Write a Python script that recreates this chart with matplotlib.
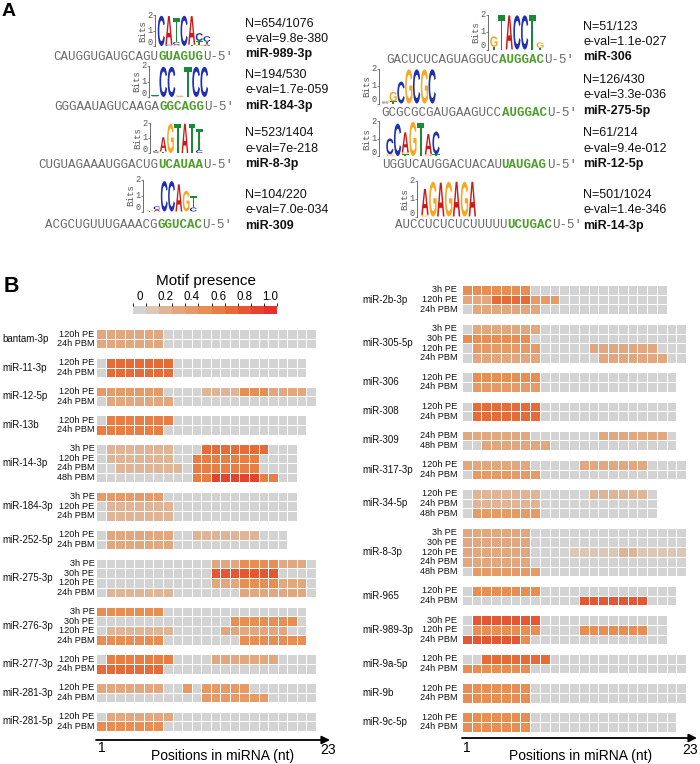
import numpy as np
import matplotlib
matplotlib.use("Agg")
import matplotlib.pyplot as plt
from matplotlib.textpath import TextPath
from matplotlib.patches import PathPatch
from matplotlib.font_manager import FontProperties
from matplotlib.transforms import Affine2D, blended_transform_factory
from matplotlib.colors import ListedColormap, BoundaryNorm
import matplotlib.cm as cm

plt.rcParams['font.family'] = ['Liberation Sans', 'DejaVu Sans']

# ---------------- Panel A data ----------------
motif_names = ["miR-989-3p", "miR-184-3p", "miR-8-3p", "miR-309",
               "miR-306", "miR-275-5p", "miR-12-5p", "miR-14-3p"]
motif_N = ["N=654/1076", "N=194/530", "N=523/1404", "N=104/220",
           "N=51/123", "N=126/430", "N=61/214", "N=501/1024"]
motif_eval = ["e-val=9.8e-380", "e-val=1.7e-059", "e-val=7e-218", "e-val=7.0e-034",
              "e-val=1.1e-027", "e-val=3.3e-036", "e-val=9.4e-012", "e-val=1.4e-346"]
seq_prefix = ["CAUGGUGAUGCAGU", "GGGAAUAGUCAAGA", "CUGUAGAAAUGGACUG", "ACGCUGUUUGAAACG",
              "GACUCUCAGUAGGUC", "GCGCGCGAUGAAGUCC", "UGGUCAUGGACUACAU", "AUCCUCUCUCUUUUU"]
seq_seed = ["GUAGUG", "GGCAGG", "UCAUAA", "GGUCAC", "AUGGAC", "AUGGAC", "UAUGAG", "UCUGAC"]
seq_suffix = "U-5\u2032"
bits_ticks = [0, 1, 2]

# letter stacks per logo column (bottom -> top), heights in bits
logo_columns = [
    [[('C', 1.95)], [('C', 0.08), ('A', 1.85)], [('G', 0.08), ('C', 0.18), ('T', 1.55)],
     [('C', 1.95)], [('T', 0.08), ('A', 1.85)], [('G', 0.08), ('T', 0.25), ('C', 0.5)],
     [('A', 0.1), ('T', 0.18), ('C', 0.35)]],
    [[('A', 0.04), ('T', 0.06)], [('C', 1.95)], [('C', 1.95)], [('A', 0.04), ('G', 0.06)],
     [('T', 1.95)], [('C', 1.95)], [('C', 1.95)]],
    [[('A', 0.06), ('C', 0.06), ('T', 0.1)], [('T', 0.1), ('A', 0.95)], [('G', 1.95)],
     [('T', 1.95)], [('A', 1.95)], [('T', 1.95)], [('C', 0.2), ('T', 1.4)]],
    [[('T', 0.05), ('G', 0.05)], [('A', 0.12), ('C', 0.2)], [('C', 1.9)], [('C', 1.9)],
     [('A', 1.7)], [('G', 1.3)], [('C', 0.25), ('T', 0.7)]],
    [[('T', 0.15), ('G', 0.6)], [('T', 1.95)], [('A', 1.95)], [('C', 1.95)], [('C', 1.95)],
     [('T', 1.95)], [('T', 0.1), ('G', 0.3)]],
    [[('A', 0.05), ('C', 0.05), ('G', 0.05)], [('T', 0.12), ('G', 0.55)], [('C', 1.25)],
     [('G', 1.95)], [('C', 1.95)], [('G', 1.95)], [('C', 1.95)]],
    [[('G', 0.1), ('C', 0.9)], [('C', 1.85)], [('T', 0.1), ('G', 0.1), ('A', 1.15)],
     [('G', 1.95)], [('T', 1.9)], [('G', 0.1), ('A', 1.15)], [('T', 0.1), ('C', 1.3)]],
    [[('G', 0.1), ('A', 1.45)], [('G', 1.95)], [('A', 1.9)], [('G', 1.95)], [('A', 1.95)],
     [('G', 1.95)], [('A', 1.95)]],
]

# ---------------- Panel B data ----------------
presence_levels = [0.0, 0.1, 0.2, 0.3, 0.4, 0.5, 0.6, 0.7, 0.8, 0.9, 1.0]
presence_ticks = [0.0, 0.2, 0.4, 0.6, 0.8, 1.0]
presence_ticklabels = ["0", "0.2", "0.4", "0.6", "0.8", "1.0"]

left_mirnas = ["bantam-3p", "miR-11-3p", "miR-12-5p", "miR-13b", "miR-14-3p", "miR-184-3p",
               "miR-252-5p", "miR-275-3p", "miR-276-3p", "miR-277-3p", "miR-281-3p", "miR-281-5p"]
left_conditions = [["120h PE", "24h PBM"], ["120h PE", "24h PBM"], ["120h PE", "24h PBM"],
                   ["120h PE", "24h PBM"], ["3h PE", "120h PE", "24h PBM", "48h PBM"],
                   ["3h PE", "120h PE", "24h PBM"], ["120h PE", "24h PBM"],
                   ["3h PE", "30h PE", "120h PE", "24h PBM"], ["3h PE", "30h PE", "120h PE", "24h PBM"],
                   ["120h PE", "24h PBM"], ["120h PE", "24h PBM"], ["120h PE", "24h PBM"]]
# one digit per nucleotide position: motif presence in tenths
left_presence = [
    ["33333330000000000000000", "33333330000000000000000"],
    ["0777777700000000000000", "0777777700000000000000"],
    ["44444440000222255533330", "03333333000000000000000"],
    ["0666666600000000000000", "6666666000000000000000"],
    ["022222220007777777000", "022222220066666660000", "002222222066666660000", "000000000066999996600"],
    ["444444400000000000000", "022222220000000000000", "022222220000000000000"],
    ["03333333002222222000", "03333333000000000000"],
    ["00000000000033355553330", "00000000000088888880000", "00000000000033355553330", "02222222000000033333330"],
    ["5555555000000000000000", "0000000000000055555550", "0222222200000333333300", "5555555000000005555555"],
    ["06666666000033333330000", "77777770000000000000000"],
    ["33333330040444440000000", "00000000000444444400000"],
    ["03333333000000000000000", "55555550000000000000000"],
]

right_mirnas = ["miR-2b-3p", "miR-305-5p", "miR-306", "miR-308", "miR-309", "miR-317-3p", "miR-34-5p",
                "miR-8-3p", "miR-965", "miR-989-3p", "miR-9a-5p", "miR-9b", "miR-9c-5p"]
right_conditions = [["3h PE", "120h PE", "24h PBM"], ["3h PE", "30h PE", "120h PE", "24h PBM"],
                    ["120h PE", "24h PBM"], ["120h PE", "24h PBM"], ["24h PBM", "48h PBM"],
                    ["120h PE", "24h PBM"], ["120h PE", "24h PBM", "48h PBM"],
                    ["3h PE", "30h PE", "120h PE", "24h PBM", "48h PBM"], ["120h PE", "24h PBM"],
                    ["30h PE", "120h PE", "24h PBM"], ["120h PE", "24h PBM"], ["120h PE", "24h PBM"],
                    ["120h PE", "24h PBM"]]
right_presence = [
    ["555555500000000000000", "333777744400000000000", "033333330000000000000"],
    ["03333333000000000000000", "55555550000000000000000", "04444444000003333333000", "03333333000000333333300"],
    ["0555555500000000000000", "0444444400000000000000"],
    ["0777777700000000000000", "0777777700000000000000"],
    ["3333333000000033333330", "0033333330000000000000"],
    ["33333330000033333330000", "04444444000000000000000"],
    ["02222222000002222220", "02222222000000000000", "04444444000000000000"],
    ["33333330000000000000000", "33333330000000000000000", "33333330000111112211111",
     "33333330000000000000000", "04444444000000000000000"],
    ["0555555500000000000000", "0000000000008888888000"],
    ["088888880000000000000", "055555550000555555500", "888888500000000000000"],
    ["00777777700000000000000", "55555550000000000000000"],
    ["55555550000000000000000", "55555550000000000000000"],
    ["5555555000000000000000", "5555555000000000000000"],
]
max_len = 23

# ---------------- styles / layout ----------------
W, H = 700, 764
fig = plt.figure(figsize=(7, 7.64), dpi=100)
ov = fig.add_axes([0, 0, 1, 1])
ov.set_xlim(0, W)
ov.set_ylim(H, 0)
ov.axis('off')


def fig_rect(x0, y0, x1, y1):
    return [x0 / W, 1 - y1 / H, (x1 - x0) / W, (y1 - y0) / H]


base_colors = {'A': '#cc1a1a', 'C': '#1f2fb0', 'G': '#f7a823', 'T': '#1a8a38'}
glyph_font = FontProperties(family='Liberation Sans', weight='bold')
glyphs = {}
for b in 'ACGT':
    p = TextPath((0, 0), b, size=10, prop=glyph_font)
    glyphs[b] = (p, p.get_extents())

# logo layout: spine x, y of 0 bits, px per bit, first column x, column width (pixels)
logo_layout = [
    (155, 46.0, 15.5, 157.5, 7.6),
    (149, 97.0, 15.5, 151.0, 8.2),
    (150, 153.0, 15.0, 152.5, 7.2),
    (143, 211.5, 16.0, 146.0, 7.3),
    (488, 49.5, 17.5, 490.0, 7.7),
    (379, 103.5, 17.5, 381.5, 7.8),
    (379, 156.0, 17.5, 386.0, 7.7),
    (417, 216.5, 17.8, 421.0, 7.9),
]
seq_layout = [(53.3, 56.5), (54.3, 107), (38.3, 165), (45, 225),
              (386.7, 60.3), (381.7, 112.7), (381.7, 165), (395, 225)]
info_layout = [(245, 23.7), (245, 75), (245, 133.3), (245, 195),
               (583.3, 26.7), (583.3, 80), (583.3, 133.3), (583.3, 195)]
mono = ['Liberation Mono', 'DejaVu Sans Mono']
cw = 7.5

for i in range(8):
    sx, y0, bpx, cx, colw = logo_layout[i]
    cols = logo_columns[i]
    x_end = cx + colw * len(cols)
    ax = fig.add_axes(fig_rect(sx, y0 - 2 * bpx, x_end, y0))
    ax.set_xlim(sx, x_end)
    ax.set_ylim(0, 2)
    for s in ['top', 'right', 'bottom']:
        ax.spines[s].set_visible(False)
    ax.spines['left'].set_linewidth(0.6)
    ax.spines['left'].set_color('#555555')
    ax.set_xticks([])
    ax.set_yticks(bits_ticks)
    ax.set_yticklabels([])
    ax.tick_params(axis='y', length=1.5, width=0.5, colors='#555555')
    ax.patch.set_alpha(0)
    for b in bits_ticks:
        yy = y0 - b * bpx
        va = 'center'
        if b == 0:
            yy = y0 + 1.0
            va = 'bottom'
        ov.text(sx - 2.5, yy, str(b), family=mono, fontsize=6.2, color='#555555',
                ha='right', va=va)
    ov.text(sx - 12.5, y0 - bpx, "Bits", family=mono, fontsize=6.6, color='#555555',
            rotation=90, ha='center', va='center')
    for k, stack in enumerate(cols):
        ybase = 0.0
        x = cx + k * colw + colw * 0.03
        w = colw * 0.94
        for letter, h in stack:
            path, bb = glyphs[letter]
            tr = (Affine2D().translate(-bb.x0, -bb.y0)
                  .scale(w / bb.width, h / bb.height).translate(x, ybase))
            ax.add_patch(PathPatch(tr.transform_path(path), facecolor=base_colors[letter],
                                   edgecolor='none'))
            ybase += h
    # sequence text
    x0, ys = seq_layout[i]
    ov.text(x0, ys, seq_prefix[i], family=mono, fontsize=9, color='#6a6a6a', va='center', ha='left')
    xs = x0 + len(seq_prefix[i]) * cw
    ov.text(xs, ys, seq_seed[i], family=mono, fontsize=9, color='#4e9e2c', weight='bold',
            va='center', ha='left')
    xs += len(seq_seed[i]) * cw
    ov.text(xs, ys, seq_suffix, family=mono, fontsize=9, color='#6a6a6a', va='center', ha='left')
    ix, iy = info_layout[i]
    ov.text(ix, iy, motif_N[i], fontsize=9, va='center', ha='left', color='#111111')
    ov.text(ix, iy + 15.3, motif_eval[i], fontsize=9, va='center', ha='left', color='#111111')
    ov.text(ix, iy + 30.6, motif_names[i], fontsize=9, va='center', ha='left',
            weight='bold', color='#111111')

ov.text(2, 12, "A", fontsize=14, weight='bold', va='center', ha='left')
ov.text(4, 286, "B", fontsize=15.5, weight='bold', va='center', ha='left')

# ---------------- Panel B ----------------
level_colors = ['#d3d3d3', '#dcc6b6', '#e0b597', '#e3a77f', '#e69a68', '#e98e52',
                '#e97e44', '#e76a39', '#e65632', '#e4432e', '#e3312b']
cmap = ListedColormap(level_colors)
cmap.set_bad((1, 1, 1, 0))
bounds = np.array(presence_levels + [1.1]) - 0.05
norm = BoundaryNorm(bounds, cmap.N)


def draw_heatmap(rect, mirnas, conds, pres, name_x, cond_off, arrow_end_px, arrow_y_px,
                 label_px):
    n_units = sum(len(c) for c in conds) + len(conds) - 1
    x0, y0, x1, y1 = rect
    ax = fig.add_axes(fig_rect(x0, y0, x1, y1))
    ax.set_xlim(0.5, max_len + 0.5)
    ax.set_ylim(n_units, 0)
    ax.axis('off')
    Z = np.full((n_units, max_len), np.nan)
    trans = blended_transform_factory(ov.transData, ax.transData)
    r = 0
    for name, cl, pl in zip(mirnas, conds, pres):
        start = r
        for cond, s in zip(cl, pl):
            Z[r, :len(s)] = [int(ch) / 10 for ch in s]
            ax.text(0.5 - cond_off, r + 0.5, cond, ha='right', va='center', fontsize=6.6,
                    color='#111111')
            r += 1
        ax.text(name_x, (start + r) / 2, name, transform=trans, ha='left', va='center',
                fontsize=7, color='#111111')
        r += 1
    Zm = np.ma.masked_invalid(Z)
    ax.pcolormesh(np.arange(0.5, max_len + 1.5), np.arange(n_units + 1), Zm, cmap=cmap,
                  norm=norm, edgecolors='white', linewidth=0.5)
    ux = (x1 - x0) / max_len
    uy = (y1 - y0) / n_units
    ax_end = 0.5 + (arrow_end_px - x0) / ux
    ay = n_units + (arrow_y_px - y1) / uy
    ax.annotate('', xy=(ax_end, ay), xytext=(0.5, ay),
                arrowprops=dict(arrowstyle='-|>', color='black', lw=1.3, mutation_scale=12,
                                shrinkA=0, shrinkB=0), annotation_clip=False)
    lx1, l23, ltxt, ly = label_px
    ov.text(lx1, 748, "1", fontsize=10, ha='center', va='center')
    ov.text(l23, 750, "23", fontsize=10, ha='center', va='center')
    ov.text(ltxt, ly, "Positions in miRNA (nt)", fontsize=10, ha='center', va='center')
    return ax


draw_heatmap((96, 329.3, 316, 731.0), left_mirnas, left_conditions, left_presence,
             2, 0.16, 330, 740, (101.7, 328, 222.5, 756))
draw_heatmap((462, 285.0, 686, 731.7), right_mirnas, right_conditions, right_presence,
             362.7, 0.48, 697, 738, (467, 690, 580.8, 756))

# colorbar
cax = fig.add_axes(fig_rect(133, 306, 277, 314.3))
sm = cm.ScalarMappable(cmap=cmap, norm=norm)
cb = fig.colorbar(sm, cax=cax, orientation='horizontal', ticks=presence_ticks,
                  ticklocation='top', spacing='uniform')
cb.outline.set_visible(False)
cb.ax.set_xticklabels(presence_ticklabels)
cb.ax.tick_params(length=0, pad=2, labelsize=8.3)
ov.text(206, 281, "Motif presence", fontsize=11, ha='center', va='center')

fig.savefig("out.png", dpi=100)
